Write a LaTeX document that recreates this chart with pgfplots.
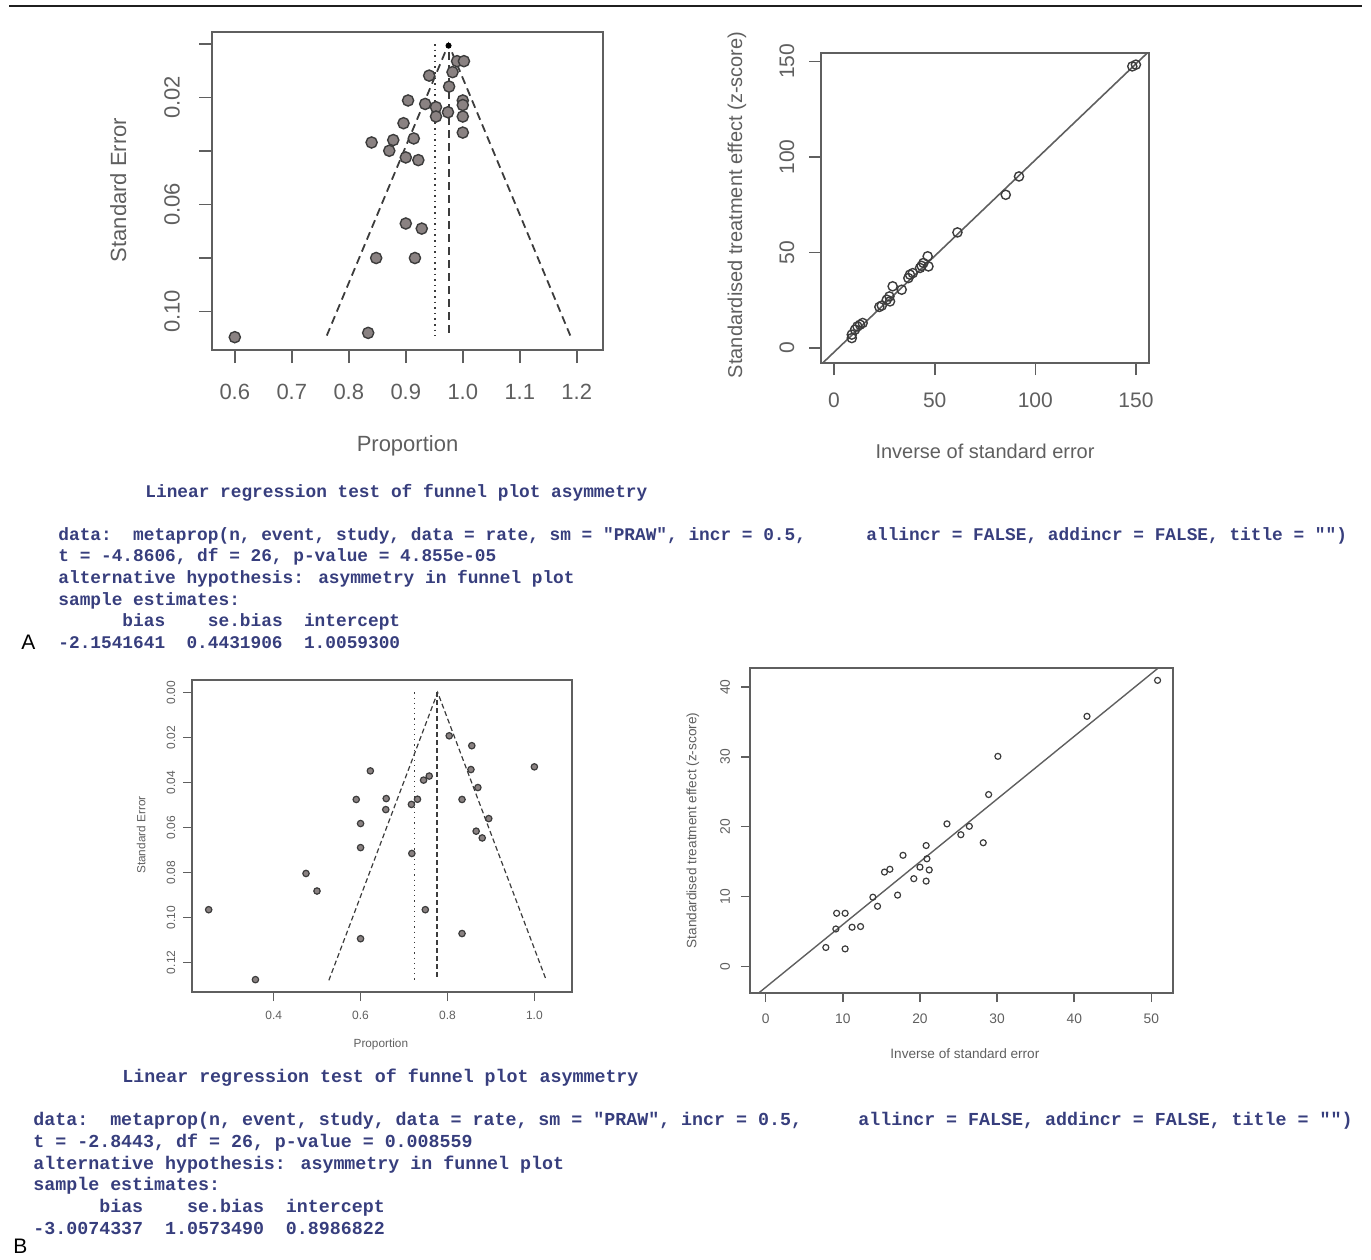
\documentclass[border=0pt]{standalone}
\usepackage{pgfplots}
\pgfplotsset{compat=1.18}
\usepackage{fontspec}
\setmainfont{Liberation Sans}
\newfontfamily\monof{Liberation Mono}
\definecolor{axgray}{RGB}{95,95,95}
\definecolor{txtblue}{RGB}{55,62,125}
\definecolor{ptfill}{RGB}{138,130,130}
\definecolor{ptedge}{RGB}{60,60,60}
\pgfplotsset{
  rstyle/.style={
    scale only axis, anchor=south west,
    axis line style={axgray, line width=0.8pt},
    tick style={axgray, line width=0.8pt},
    tick align=outside, tick pos=left,
    ticklabel style={text=axgray},
    label style={text=axgray},
    xticklabel style={anchor=center},
    clip=true,
  }
}
\begin{document}
\begin{tikzpicture}[x=0.5pt,y=-0.5pt]
\path (0,0) rectangle (1371,1259);
\draw[line width=1.1pt, black!88] (9,6) -- (1362,6);

% ---------------- A left: funnel plot
\begin{axis}[rstyle, at={(106pt,-175pt)}, width=195.5pt, height=159pt,
  xmin=0.56, xmax=1.246, ymin=-0.0045, ymax=0.1144, y dir=reverse,
  major tick length=6.5pt,
  xtick={0.6,0.7,0.8,0.9,1.0,1.1,1.2},
  xticklabels={0.6,0.7,0.8,0.9,1.0,1.1,1.2},
  ytick={0,0.02,0.04,0.06,0.08,0.10},
  yticklabels={,0.02,,0.06,,0.10},
  ticklabel style={font=\fontsize{11}{13}\selectfont},
  xticklabel style={yshift=-14.5pt},
  yticklabel style={xshift=-13.5pt, rotate=90, anchor=center},
  xlabel={Proportion}, ylabel={Standard Error},
  label style={font=\fontsize{11}{13}\selectfont},
  xlabel style={at={(axis description cs:0.5,-0.302)}, anchor=center},
  ylabel style={at={(axis description cs:-0.240,0.503)}, anchor=center, rotate=0},
]
\addplot[ptedge, dashed, line width=0.9pt, dash pattern=on 4pt off 2.5pt] coordinates {(0.7614,0.109) (0.975,0) (1.1886,0.109)};
\addplot[ptedge, dotted, line width=0.8pt] coordinates {(0.951,0) (0.951,0.109)};
\addplot[ptedge, line width=0.9pt, dash pattern=on 4pt off 2.5pt] coordinates {(0.976,0.003) (0.976,0.1085)};
\addplot[only marks, mark=*, mark size=2.8pt, mark options={fill=ptfill, draw=ptedge, line width=0.7pt}] coordinates {
(0.600,0.1096) (0.834,0.1080) (0.848,0.0800) (0.916,0.0800) (0.900,0.0671)
(0.928,0.0690) (0.840,0.0368) (0.878,0.0359) (0.871,0.0399) (0.900,0.0424)
(0.922,0.0434) (0.914,0.0353) (0.896,0.0296) (0.904,0.0211) (0.934,0.0224)
(0.953,0.0236) (0.953,0.0271) (0.974,0.0255) (1.000,0.0271) (1.000,0.0331)
(1.000,0.0211) (1.000,0.0228) (0.976,0.0159) (0.941,0.0118) (0.982,0.0105)
(0.990,0.0064) (1.002,0.0064)
};
\addplot[only marks, mark=*, mark size=1.3pt, black] coordinates {(0.975,0.0006)};
\end{axis}

% ---------------- A right: radial plot
\begin{axis}[rstyle, at={(410.5pt,-181.5pt)}, width=164pt, height=155pt,
  xmin=-6.5, xmax=156.5, ymin=-7.85, ymax=154.4,
  major tick length=6pt,
  xtick={0,50,100,150}, xticklabels={0,50,100,150},
  ytick={0,50,100,150}, yticklabels={0,50,100,150},
  ticklabel style={font=\fontsize{10.5}{12}\selectfont},
  xticklabel style={yshift=-12.5pt},
  yticklabel style={xshift=-11pt, rotate=90, anchor=center},
  xlabel={Inverse of standard error}, ylabel={Standardised treatment effect (z-score)},
  label style={font=\fontsize{10}{12}\selectfont},
  xlabel style={at={(axis description cs:0.5,-0.284)}, anchor=center},
  ylabel style={at={(axis description cs:-0.256,0.51)}, anchor=center},
]
\addplot[axgray, line width=0.8pt] coordinates {(-6.5,-8.69) (156.5,155.27)};
\addplot[only marks, mark=o, mark size=2.3pt, mark options={draw=ptedge, line width=0.7pt}] coordinates {
(148.2,147.4) (150.0,148.3) (91.9,89.8) (85.3,80.2) (61.3,60.5)
(46.5,48.0) (46.9,42.7) (43.5,43.0) (44.4,44.5) (42.7,41.9)
(37.7,38.4) (39.1,39.2) (36.9,36.6) (33.6,30.5) (29.1,32.3)
(27.5,27.0) (26.2,25.3) (23.7,22.2) (22.5,21.5) (27.8,24.4)
(14.2,13.1) (12.9,12.2) (11.6,11.3) (10.4,9.6) (8.8,7.0) (8.8,5.2)
};
\end{axis}

% ---------------- B left: funnel plot
\begin{axis}[rstyle, at={(96pt,-496pt)}, width=190pt, height=156pt,
  xmin=0.212, xmax=1.0866, ymin=-0.0055, ymax=0.1332, y dir=reverse,
  major tick length=4.5pt,
  xtick={0.4,0.6,0.8,1.0}, xticklabels={0.4,0.6,0.8,1.0},
  ytick={0,0.02,0.04,0.06,0.08,0.10,0.12},
  yticklabels={0.00,0.02,0.04,0.06,0.08,0.10,0.12},
  ticklabel style={font=\fontsize{6}{7}\selectfont},
  xticklabel style={yshift=-7pt},
  yticklabel style={xshift=-6pt, rotate=90, anchor=center},
  xlabel={Proportion}, ylabel={Standard Error},
  label style={font=\fontsize{5.9}{7}\selectfont},
  xlabel style={at={(axis description cs:0.497,-0.167)}, anchor=center},
  ylabel style={at={(axis description cs:-0.134,0.503)}, anchor=center},
]
\addplot[ptedge, line width=0.6pt, dash pattern=on 2.5pt off 1.5pt] coordinates {(0.527,0.128) (0.7774,0) (1.0275,0.128)};
\addplot[ptedge, dotted, line width=0.6pt] coordinates {(0.7245,0) (0.7245,0.128)};
\addplot[ptedge, line width=0.7pt, dash pattern=on 2.5pt off 1.5pt] coordinates {(0.776,0) (0.776,0.128)};
\addplot[only marks, mark=*, mark size=1.6pt, mark options={fill=ptfill, draw=ptedge, line width=0.6pt}] coordinates {
(0.2504,0.0966) (0.358,0.1277) (0.4744,0.0805) (0.4997,0.0883) (0.600,0.1095)
(0.600,0.0690) (0.600,0.0583) (0.590,0.0476) (0.6225,0.0349) (0.659,0.0472)
(0.658,0.0521) (0.717,0.0498) (0.731,0.0475) (0.718,0.0716) (0.745,0.0390)
(0.758,0.0372) (0.749,0.0966) (0.804,0.0193) (0.856,0.0237) (0.854,0.0343)
(0.870,0.0423) (0.8335,0.0476) (0.895,0.0561) (0.866,0.0617) (0.880,0.0647)
(0.8335,0.1072) (1.000,0.0331)
};
\end{axis}

% ---------------- B right: radial plot
\begin{axis}[rstyle, at={(375pt,-496.5pt)}, width=211.5pt, height=162.5pt,
  xmin=-2.03, xmax=52.8, ymin=-3.82, ymax=42.72,
  major tick length=4.5pt,
  xtick={0,10,20,30,40,50}, xticklabels={0,10,20,30,40,50},
  ytick={0,10,20,30,40}, yticklabels={0,10,20,30,40},
  ticklabel style={font=\fontsize{6.9}{8}\selectfont},
  xticklabel style={yshift=-8.5pt},
  yticklabel style={xshift=-8pt, rotate=90, anchor=center},
  xlabel={Inverse of standard error}, ylabel={Standardised treatment effect (z-score)},
  label style={font=\fontsize{6.8}{8}\selectfont},
  xlabel style={at={(axis description cs:0.508,-0.188)}, anchor=center},
  ylabel style={at={(axis description cs:-0.135,0.50)}, anchor=center},
]
\addplot[axgray, line width=0.7pt] coordinates {(-2.03,-4.83) (52.8,44.44)};
\addplot[only marks, mark=o, mark size=1.5pt, mark options={draw=ptedge, line width=0.6pt}] coordinates {
(50.8,40.95) (41.65,35.8) (30.1,30.07) (28.9,24.6) (28.2,17.7)
(26.4,20.05) (25.3,18.85) (23.5,20.4) (20.8,17.3) (20.9,15.4)
(21.2,13.8) (20.8,12.2) (20.0,14.2) (19.2,12.55) (17.8,15.9)
(17.1,10.2) (16.1,13.9) (15.4,13.5) (14.5,8.6) (13.9,9.9)
(12.3,5.7) (11.2,5.6) (10.3,7.6) (9.2,7.6) (9.1,5.35)
(10.3,2.5) (7.8,2.7)
};
\end{axis}

% ---------------- text blocks
\begin{scope}[every node/.style={inner sep=0pt, anchor=base west, text=txtblue, font=\monof\bfseries\fontsize{8.9}{10}\selectfont}]
\node at (145,497) {Linear regression test of funnel plot asymmetry};
\node at (58,540) {data:~~metaprop(n, event, study, data = rate, sm = "PRAW", incr = 0.5,};
\node at (866,540) {allincr = FALSE, addincr = FALSE, title = "")};
\node at (58,561.5) {t = -4.8606, df = 26, p-value = 4.855e-05};
\node at (58,583) {alternative hypothesis: asymmetry in funnel plot};
\node at (58,605) {sample estimates:};
\node at (58,626) {~~~~~~bias~~~~se.bias~~intercept};
\node at (58,648) {-2.1541641~~0.4431906~~1.0059300};
\end{scope}
\begin{scope}[every node/.style={inner sep=0pt, anchor=base west, text=txtblue, font=\monof\bfseries\fontsize{9.15}{10}\selectfont}]
\node at (122,1082) {Linear regression test of funnel plot asymmetry};
\node at (33,1125) {data:~~metaprop(n, event, study, data = rate, sm = "PRAW", incr = 0.5,};
\node at (858,1125) {allincr = FALSE, addincr = FALSE, title = "")};
\node at (33,1147) {t = -2.8443, df = 26, p-value = 0.008559};
\node at (33,1169) {alternative hypothesis: asymmetry in funnel plot};
\node at (33,1190) {sample estimates:};
\node at (33,1212) {~~~~~~bias~~~~se.bias~~intercept};
\node at (33,1234) {-3.0074337~~1.0573490~~0.8986822};
\end{scope}
\node[inner sep=0pt, anchor=base west, font=\fontsize{10.5}{12}\selectfont] at (21,649) {A};
\node[inner sep=0pt, anchor=base west, font=\fontsize{10.5}{12}\selectfont] at (13,1253) {B};
\end{tikzpicture}
\end{document}
